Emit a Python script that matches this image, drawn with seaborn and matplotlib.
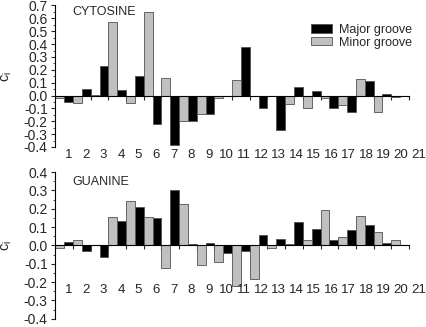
import numpy as np
import pandas as pd
import matplotlib
matplotlib.use('Agg')
import matplotlib.pyplot as plt
import seaborn as sns
from matplotlib.patches import Patch
from matplotlib.ticker import MultipleLocator, FixedLocator

# residue positions
major_pos = list(range(1, 20))
minor_pos = [k - 0.5 for k in range(1, 21)]
labels = [str(k) for k in range(1, 22)]

cyt_major = [-0.05, 0.05, 0.23, 0.04, 0.15, -0.22, -0.385, -0.20, -0.14, -0.003,
             0.38, -0.10, -0.265, 0.07, 0.035, -0.095, -0.13, 0.11, 0.01]
cyt_minor = [-0.02, -0.055, 0.005, 0.57, -0.055, 0.65, 0.14, -0.20, -0.145, -0.02,
             0.12, -0.005, -0.003, -0.068, -0.095, -0.023, -0.07, 0.13, -0.125, -0.015]

gua_major = [0.018, -0.032, -0.063, 0.135, 0.207, 0.148, 0.301, 0.007, 0.011, -0.04,
             -0.031, 0.057, 0.036, 0.128, 0.09, 0.031, 0.085, 0.112, 0.013]
gua_minor = [-0.013, 0.032, 0.003, 0.155, 0.241, 0.155, -0.121, 0.225, -0.105, -0.088,
             -0.223, -0.182, -0.013, 0.009, 0.027, 0.191, 0.045, 0.16, 0.074, 0.032]

panels = [('CYTOSINE', cyt_major, cyt_minor, (-0.4, 0.7), -0.463, 0.955),
          ('GUANINE', gua_major, gua_minor, (-0.4, 0.4), -0.245, 0.935)]

sns.set_style('ticks')
plt.rcParams['font.family'] = ['Liberation Sans', 'DejaVu Sans']
plt.rcParams['axes.unicode_minus'] = False
FS = 9

fig = plt.figure(figsize=(4.26, 3.27), dpi=100)
ax_top = fig.add_axes([0.1298, 0.5505, 0.8613, 0.4327])
ax_bot = fig.add_axes([0.1298, 0.025, 0.8613, 0.449])

palette = {'Major groove': 'black', 'Minor groove': '#c0c0c0'}

for ax, (name, major, minor, ylim, lab_y, name_y) in zip([ax_top, ax_bot], panels):
    df = pd.concat([
        pd.DataFrame({'pos': major_pos, 'value': major, 'groove': 'Major groove'}),
        pd.DataFrame({'pos': minor_pos, 'value': minor, 'groove': 'Minor groove'}),
    ], ignore_index=True)
    sns.barplot(data=df, x='pos', y='value', hue='groove', native_scale=True,
                dodge=False, width=1.0, palette=palette, saturation=1,
                errorbar=None, edgecolor='#505050', linewidth=0.6,
                legend=False, ax=ax)

    ax.set_xlim(0.25, 21.0)
    ax.set_ylim(*ylim)
    ax.set_xlabel('')
    ax.set_ylabel('c$_\\mathregular{i}$', fontsize=FS + 1.5)
    ax.yaxis.set_label_coords(-0.112, 0.5)

    for s in ['top', 'right']:
        ax.spines[s].set_visible(False)
    ax.spines['bottom'].set_position(('data', 0))
    ax.spines['bottom'].set_bounds(0.25, 20.25)
    ax.spines['left'].set_bounds(*ylim)
    for s in ['left', 'bottom']:
        ax.spines[s].set_linewidth(0.8)
        ax.spines[s].set_color('black')

    ax.xaxis.set_major_locator(FixedLocator([k + 0.25 for k in range(1, 21)]))
    ax.tick_params(axis='x', which='major', direction='out', length=3.2,
                   width=0.8, labelbottom=False)
    # residue numbers sit in a row of their own, a touch tighter than the bars
    for i, lab in enumerate(labels):
        ax.text(1 + i * 0.99, lab_y, lab, ha='center', va='center', fontsize=FS + 0.5)

    ax.yaxis.set_major_locator(MultipleLocator(0.1))
    ax.yaxis.set_minor_locator(MultipleLocator(0.05))
    ax.yaxis.set_major_formatter(matplotlib.ticker.FormatStrFormatter('%.1f'))
    ax.tick_params(axis='y', which='major', direction='out', length=3,
                   width=0.8, labelsize=FS + 1, pad=2.5)
    ax.tick_params(axis='y', which='minor', direction='out', length=1.6,
                   width=0.6)

    ax.text(0.0455, name_y, name, transform=ax.transAxes, ha='left',
            va='center', fontsize=FS)

handles = [Patch(facecolor='black', edgecolor='#505050', linewidth=0.6, label='Major groove'),
           Patch(facecolor='#c0c0c0', edgecolor='#505050', linewidth=0.6, label='Minor groove')]
ax_top.legend(handles=handles, loc='upper left', bbox_to_anchor=(0.697, 0.87),
              frameon=False, fontsize=FS, handlelength=1.7, handleheight=0.65,
              handletextpad=0.5, labelspacing=0.05, borderpad=0, borderaxespad=0)

fig.savefig('out.png', dpi=100, facecolor='white')
